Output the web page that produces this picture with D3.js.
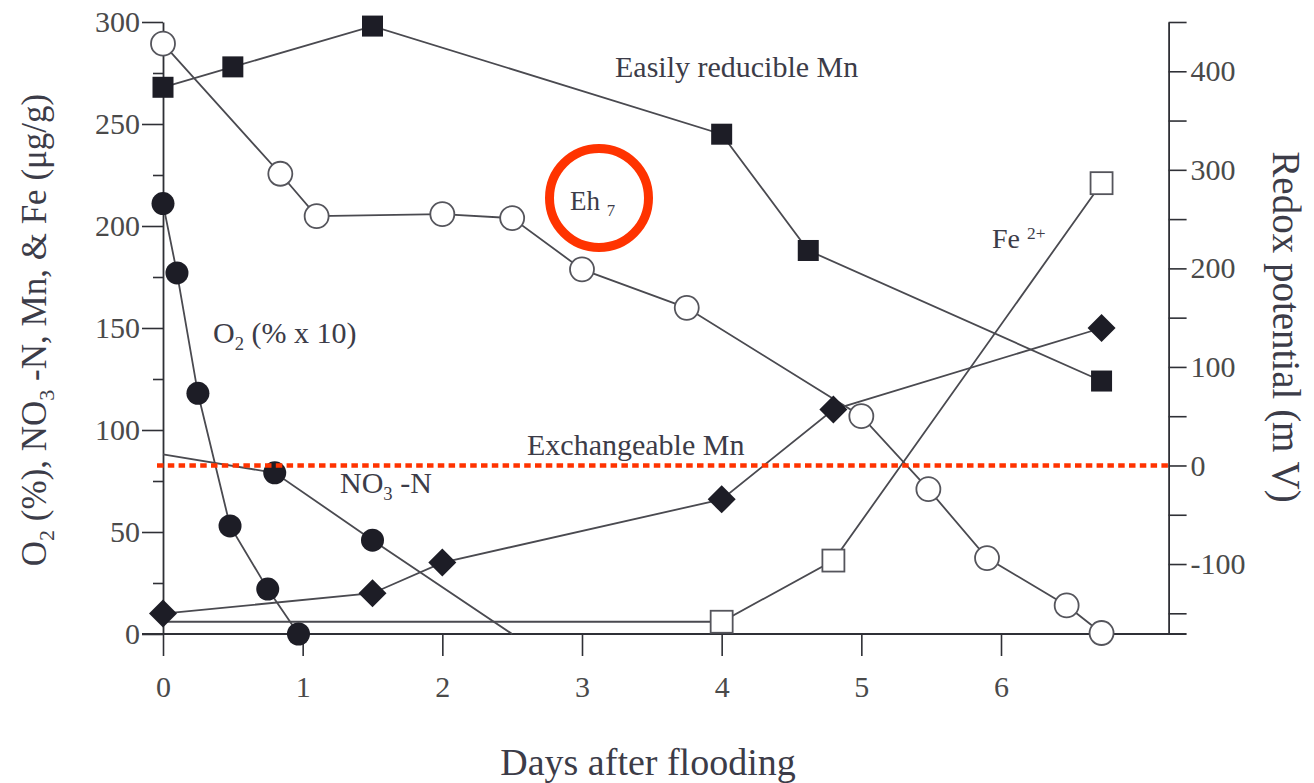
<!DOCTYPE html>
<html>
<head>
<meta charset="utf-8">
<script src="https://cdn.jsdelivr.net/npm/d3@7/dist/d3.min.js"></script>
<style>
  html, body { margin: 0; padding: 0; background: #fff; }
  svg { display: block; }
  text { font-family: "Liberation Serif", "DejaVu Serif", serif; }
</style>
</head>
<body>
<svg id="chart" width="1314" height="783"></svg>
<script>
// ---- data ------------------------------------------------------------
// Days after flooding and soil measurements (left axis, µg/g or % x 10)
const reducibleMnDays = [0, 0.5, 1.5, 4, 4.62, 6.72];
const reducibleMn     = [268, 278, 298, 245, 188, 124];

const o2Days = [0, 0.1, 0.25, 0.48, 0.75, 0.97];
const o2     = [211, 177, 118, 53, 22, 0];

const no3Days = [0, 0.8, 1.5, 2.5];
const no3     = [88, 79, 46, 0];

const exchMnDays = [0, 1.5, 2, 4, 4.8, 6.72];
const exchMn     = [10, 20, 35, 66, 110, 150];

const feDays = [0, 4, 4.8, 6.72];
const fe     = [6, 6, 36, 221];

// Redox potential (right axis, mV)
const ehDays = [0, 0.84, 1.1, 2, 2.5, 3, 3.75, 5, 5.48, 5.9, 6.47, 6.72];
const eh     = [428, 296, 253, 255, 251, 199, 160, 50, -24, -94, -142, -170];

// axis ticks
const dayTicks      = [0, 1, 2, 3, 4, 5, 6];
const leftMajor     = [0, 50, 100, 150, 200, 250, 300];
const leftMinor     = [25, 75, 125, 175, 225, 275];
const rightTicks    = [-150, -100, -50, 0, 50, 100, 150, 200, 250, 300, 350, 400, 450];
const rightLabelled = [-100, 0, 100, 200, 300, 400];

// ---- layout ----------------------------------------------------------
const svg = d3.select("#chart");
const x  = d3.scaleLinear().domain([0, 7.2]).range([163, 1168.6]);
const yL = d3.scaleLinear().domain([0, 300]).range([634, 22]);
const yR = d3.scaleLinear().domain([-171, 450]).range([634, 22]);

const ink = "#2f3036";
const lineInk = "#4a4a50";

function styleAxis(g) {
  g.selectAll("path.domain").attr("stroke", ink).attr("stroke-width", 1.8);
  g.selectAll(".tick line").attr("stroke", ink).attr("stroke-width", 1.6);
  g.selectAll(".tick text")
    .attr("fill", "#4a4a4a")
    .style("font-family", '"Liberation Serif", serif')
    .style("font-size", "30px");
}

// left axis
const gL = svg.append("g").attr("transform", `translate(${x(0)},0)`);
gL.call(d3.axisLeft(yL).tickValues(leftMajor).tickSize(21).tickSizeOuter(0).tickPadding(2))
  .call(styleAxis);
gL.append("g").call(d3.axisLeft(yL).tickValues(leftMinor).tickSize(10).tickFormat(""))
  .call(g => g.select("path.domain").remove())
  .call(styleAxis);

// right axis
const gR = svg.append("g").attr("transform", `translate(${x(7.2)},0)`);
gR.call(d3.axisRight(yR).tickValues(rightTicks).tickSize(18).tickSizeOuter(0).tickPadding(4)
        .tickFormat(d => rightLabelled.includes(d) ? (d < 0 ? "-" + Math.abs(d) : d) : ""))
  .call(styleAxis);

// bottom axis
const gB = svg.append("g").attr("transform", `translate(0,${yL(0)})`);
gB.call(d3.axisBottom(x).tickValues(dayTicks).tickSize(22).tickSizeOuter(0).tickPadding(20))
  .call(styleAxis);
gB.select("path.domain").remove();
gB.append("line")
  .attr("x1", x(0) - 21).attr("x2", x(7.2) + 18)
  .attr("y1", 0).attr("y2", 0)
  .attr("stroke", ink).attr("stroke-width", 1.8);

// ---- series ----------------------------------------------------------
const zipL = (ds, vs) => ds.map((d, i) => [x(d), yL(vs[i])]);
const zipR = (ds, vs) => ds.map((d, i) => [x(d), yR(vs[i])]);
const line = d3.line();

const series = [
  { pts: zipL(feDays, fe),                   marker: "openSquare", skip: [0] },
  { pts: zipL(no3Days, no3),                 marker: "dot",        skip: [0, 3] },
  { pts: zipL(exchMnDays, exchMn),           marker: "diamond",    skip: [] },
  { pts: zipL(o2Days, o2),                   marker: "dot",        skip: [] },
  { pts: zipL(reducibleMnDays, reducibleMn), marker: "square",     skip: [] },
  { pts: zipR(ehDays, eh),                   marker: "openCircle", skip: [] }
];

const gLines = svg.append("g");
series.forEach(s => {
  gLines.append("path")
    .attr("d", line(s.pts))
    .attr("fill", "none")
    .attr("stroke", lineInk)
    .attr("stroke-width", 1.8);
});

const markFill = "#1d1d26";
const gMarks = svg.append("g");
series.forEach(s => {
  s.pts.forEach((p, i) => {
    if (s.skip.includes(i)) return;
    const [px, py] = p;
    if (s.marker === "dot") {
      gMarks.append("circle").attr("cx", px).attr("cy", py).attr("r", 11.5)
        .attr("fill", markFill);
    } else if (s.marker === "openCircle") {
      gMarks.append("circle").attr("cx", px).attr("cy", py).attr("r", 12)
        .attr("fill", "#fff").attr("stroke", "#55555c").attr("stroke-width", 1.8);
    } else if (s.marker === "square") {
      gMarks.append("rect").attr("x", px - 10.5).attr("y", py - 10.5)
        .attr("width", 21).attr("height", 21).attr("fill", markFill);
    } else if (s.marker === "openSquare") {
      gMarks.append("rect").attr("x", px - 11).attr("y", py - 11)
        .attr("width", 22).attr("height", 22)
        .attr("fill", "#fff").attr("stroke", "#55555c").attr("stroke-width", 1.8);
    } else if (s.marker === "diamond") {
      const r = 14;
      gMarks.append("path")
        .attr("d", `M${px},${py - r}L${px + r},${py}L${px},${py + r}L${px - r},${py}Z`)
        .attr("fill", markFill);
    }
  });
});

// ---- labels ----------------------------------------------------------
const labelInk = "#3c3c48";
function label(xp, yp, parts, size) {
  const t = svg.append("text").attr("x", xp).attr("y", yp)
    .attr("fill", labelInk).style("font-size", size + "px");
  parts.forEach(([txt, shift]) => {
    const ts = t.append("tspan").text(txt);
    if (shift) {
      ts.attr("baseline-shift", shift).style("font-size", (size * 0.62) + "px");
    }
  });
  return t;
}

label(615, 77,  [["Easily reducible Mn"]], 30);
label(213, 343, [["O"], ["2", "-35%"], [" (% x 10)"]], 30);
label(340, 493, [["NO"], ["3", "-35%"], [" -N"]], 30);
label(527, 455, [["Exchangeable Mn"]], 30);
label(570, 210, [["Eh "], ["7", "-35%"]], 27);
label(992, 248, [["Fe "], ["2+", "55%"]], 28);

// axis titles
svg.append("text")
  .attr("transform", `translate(46,330) rotate(-90)`)
  .attr("text-anchor", "middle")
  .attr("fill", labelInk)
  .style("font-size", "35px")
  .call(t => {
    t.append("tspan").text("O");
    t.append("tspan").text("2").attr("baseline-shift", "-35%").style("font-size", "22px");
    t.append("tspan").text(" (%), NO");
    t.append("tspan").text("3").attr("baseline-shift", "-35%").style("font-size", "22px");
    t.append("tspan").text(" -N, Mn, & Fe (μg/g)");
  });

svg.append("text")
  .attr("transform", `translate(1273,327) rotate(90)`)
  .attr("text-anchor", "middle")
  .attr("fill", labelInk)
  .style("font-size", "39px")
  .text("Redox potential (m V)");

svg.append("text")
  .attr("x", 648).attr("y", 775)
  .attr("text-anchor", "middle")
  .attr("fill", labelInk)
  .style("font-size", "38px")
  .text("Days after flooding");

// ---- highlight marks -------------------------------------------------
svg.append("line")
  .attr("x1", x(0) - 6).attr("x2", x(7.2))
  .attr("y1", yR(0)).attr("y2", yR(0))
  .attr("stroke", "#ff3300").attr("stroke-width", 4.5)
  .attr("stroke-dasharray", "6.5 4.3");

svg.append("circle")
  .attr("cx", 599).attr("cy", 198).attr("r", 49.5)
  .attr("fill", "none").attr("stroke", "#ff3300").attr("stroke-width", 9);
</script>
</body>
</html>
